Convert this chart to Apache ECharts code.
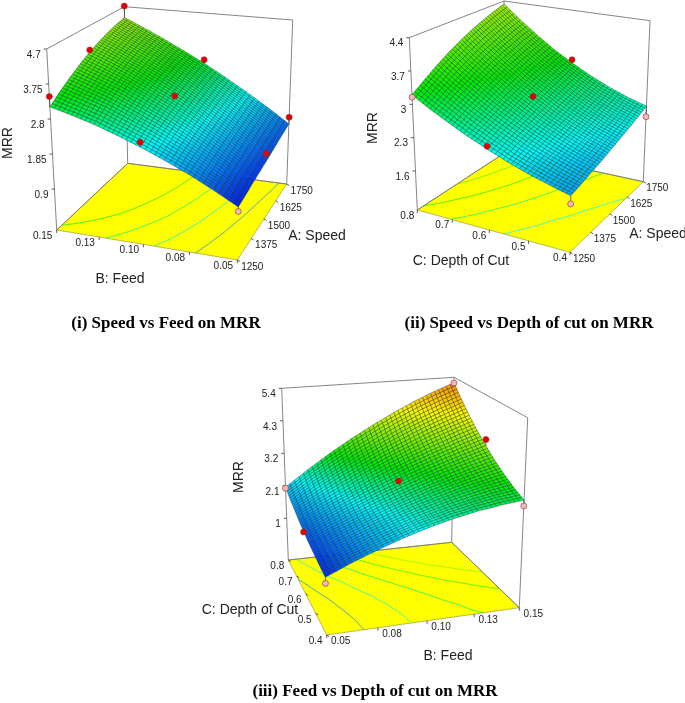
<!DOCTYPE html>
<html><head><meta charset="utf-8">
<style>html,body{margin:0;padding:0;background:#fff}#c{width:685px;height:703px}</style>
<script src="https://cdn.jsdelivr.net/npm/echarts@6/dist/echarts.min.js"></script>
</head><body><div id="c"></div>
<script>
// ---- values ----
const speedTicks=['1250','1375','1500','1625','1750'];
const feedTicks=['0.05','0.08','0.10','0.13','0.15'];
const depthTicks=['0.4','0.5','0.6','0.7','0.8'];
const mrrTicks1=['0.9','1.85','2.8','3.75','4.7'];
const mrrTicks2=['1.6','2.3','3','3.7','4.4'];
const mrrTicks3=['1','2.1','3.2','4.3','5.4'];
const tickVals1=[0.9,1.85,2.8,3.75,4.7];
const tickVals2=[1.6,2.3,3,3.7,4.4];
const tickVals3=[1,2.1,3.2,4.3,5.4];
// Surface heights on a 9x9 grid; rows: first factor low to high, columns: second factor low to high.
// Corners, edge midpoints and centre were estimated from the picture; the other nodes are a
// hand-calculated smooth fit through those estimates, not individual readings.
const surfaceSpeedFeed=[
[1.17,1.51,1.83,2.11,2.37,2.60,2.81,2.98,3.13],
[1.22,1.58,1.93,2.23,2.51,2.76,3.00,3.19,3.37],
[1.28,1.66,2.01,2.34,2.64,2.91,3.17,3.38,3.58],
[1.33,1.72,2.10,2.44,2.76,3.05,3.32,3.55,3.77],
[1.38,1.79,2.17,2.53,2.86,3.16,3.45,3.70,3.94],
[1.43,1.85,2.24,2.61,2.95,3.27,3.56,3.83,4.08],
[1.49,1.91,2.31,2.68,3.03,3.36,3.66,3.94,4.20],
[1.54,1.97,2.37,2.75,3.10,3.43,3.74,4.02,4.29],
[1.59,2.02,2.42,2.80,3.16,3.49,3.80,4.09,4.36]];
const surfaceSpeedDepth=[
[1.89,2.00,2.12,2.26,2.42,2.59,2.78,2.98,3.20],
[1.95,2.07,2.21,2.36,2.54,2.73,2.94,3.16,3.40],
[2.02,2.15,2.29,2.46,2.65,2.85,3.08,3.32,3.59],
[2.08,2.22,2.38,2.55,2.76,2.97,3.22,3.47,3.76],
[2.16,2.30,2.46,2.64,2.86,3.08,3.34,3.61,3.91],
[2.23,2.37,2.54,2.73,2.95,3.18,3.45,3.73,4.04],
[2.31,2.45,2.62,2.81,3.03,3.27,3.54,3.83,4.15],
[2.39,2.53,2.69,2.89,3.11,3.35,3.63,3.92,4.25],
[2.48,2.61,2.77,2.96,3.18,3.42,3.70,4.00,4.33]];
const surfaceDepthFeed=[
[1.29,1.62,1.91,2.17,2.39,2.57,2.71,2.81,2.88],
[1.34,1.66,1.94,2.20,2.43,2.63,2.79,2.93,3.04],
[1.41,1.72,2.01,2.27,2.52,2.73,2.93,3.09,3.24],
[1.48,1.80,2.09,2.38,2.64,2.88,3.09,3.29,3.47],
[1.57,1.91,2.23,2.53,2.81,3.08,3.32,3.54,3.75],
[1.67,2.04,2.38,2.72,3.03,3.32,3.58,3.83,4.06],
[1.79,2.20,2.59,2.95,3.29,3.60,3.90,4.16,4.40],
[1.91,2.38,2.81,3.21,3.58,3.93,4.25,4.53,4.79],
[2.05,2.58,3.07,3.52,3.93,4.31,4.65,4.95,5.21]];
// design points: [second factor 0-1, first factor 0-1, MRR]; heights
const pointsSpeedFeedAbove=[[1,1,4.72],[1,.5,4.0],[1,0,3.41],[.5,1,3.27],[.5,.5,2.93],[.5,0,2.5],[0,1,1.79],[0,.5,1.62]];
const pointsSpeedFeedBelow=[[0,0,1.05]];
const pointsSpeedDepthAbove=[[.5,1,3.25],[.5,.5,2.93],[.5,0,2.48]];
const pointsSpeedDepthBelow=[[1,0,3.15],[0,1,2.24],[0,0,1.73]];
const pointsDepthFeedAbove=[[0,.5,1.55],[.5,.5,2.86],[1,.5,3.95]];
const pointsDepthFeedBelow=[[0,1,2.02],[0,0,1.11],[1,1,5.2],[1,0,2.70]];

// ---- layout of the three boxes (screen geometry, not data) ----
const panels=[
 {m:surfaceSpeedFeed,floor:[[237.3,260],[56.7,230],[127.7,163.3],[286.7,184]],top:[[241,71],[46.7,49],[124.3,6.7],[292.7,20]],
  zFloor:-0.21,zTop:4.7,stops:[1.05,2.35,3.3,5.0,6.2],levels:[1.75,2.25,2.75,3.25],
  uTicks:feedTicks,vTicks:speedTicks,zTicks:mrrTicks1,zVals:tickVals1,above:pointsSpeedFeedAbove,below:pointsSpeedFeedBelow,
  uOff:[-14,6],vOff:[15,7],zEdge:[1,0]},
 {m:surfaceSpeedDepth,floor:[[570,252.3],[417.3,210],[506,152],[643.3,181.7]],top:[[572.5,68],[409.3,37.7],[504,1],[650,20.7]],
  zFloor:0.78,zTop:4.4,stops:[1.2,2.3,3.25,4.9,6.2],levels:[2.3,2.8,3.3,3.8],
  uTicks:depthTicks,vTicks:speedTicks,zTicks:mrrTicks2,zVals:tickVals2,above:pointsSpeedDepthAbove,below:pointsSpeedDepthBelow,
  uOff:[-10,6],vOff:[14,7],zEdge:[1,0]},
 {m:surfaceDepthFeed,floor:[[326.7,635],[519.3,607.7],[451.7,542.3],[288.3,560]],top:[[322,437.7],[527.7,417.7],[454,377.3],[281.7,388.3]],
  zFloor:-0.41,zTop:5.4,stops:[1.1,2.3,3.05,4.4,6.2],levels:[1.75,2.25,2.75,3.25,3.75],
  uTicks:feedTicks,vTicks:depthTicks,zTicks:mrrTicks3,zVals:tickVals3,above:pointsDepthFeedAbove,below:pointsDepthFeedBelow,
  uOff:[14,6.5],vOff:[-11,6.5],zEdge:[0,1]}
];
const axisTexts=[
 {t:'MRR',x:8,y:143,rot:90,s:14},{t:'B: Feed',x:120,y:279,s:14},{t:'A: Speed',x:317,y:236,s:14},
 {t:'MRR',x:373,y:128,rot:90,s:14},{t:'C: Depth of Cut',x:461,y:261,s:14},{t:'A: Speed',x:658,y:234,s:14},
 {t:'MRR',x:239,y:477,rot:90,s:14},{t:'C: Depth of Cut',x:250,y:610,s:14},{t:'B: Feed',x:448,y:656,s:14}
];
const captions=[
 {t:'(i) Speed vs Feed on MRR',x:166,y:315},
 {t:'(ii) Speed vs Depth of cut on MRR',x:529,y:315},
 {t:'(iii) Feed vs Depth of cut on MRR',x:375,y:683}
];
const MESH=40;

function homography(q){
 const [[x0,y0],[x1,y1],[x2,y2],[x3,y3]]=q;
 const dx1=x1-x2,dx2=x3-x2,sx=x0-x1+x2-x3,dy1=y1-y2,dy2=y3-y2,sy=y0-y1+y2-y3;
 const den=dx1*dy2-dx2*dy1,g=(sx*dy2-dx2*sy)/den,h=(dx1*sy-sx*dy1)/den;
 const a=x1-x0+g*x1,b=x3-x0+h*x3,d=y1-y0+g*y1,e=y3-y0+h*y3;
 return (u,v)=>{const w=g*u+h*v+1;return [(a*u+b*v+x0)/w,(d*u+e*v+y0)/w];};
}
// Bilinear interpolation between the 9x9 matrix values: the 40x40 mesh nodes that fall
// between matrix nodes are interpolated so the drawn mesh matches the reference's density.
function surfaceAt(m,u,v){
 const n=m.length-1,fu=Math.min(u*n,n-1e-9),fv=Math.min(v*n,n-1e-9),i=Math.floor(fv),j=Math.floor(fu),s=fu-j,t=fv-i;
 return (1-t)*((1-s)*m[i][j]+s*m[i][j+1])+t*((1-s)*m[i+1][j]+s*m[i+1][j+1]);
}
const ramp=[[0,0,255],[0,250,250],[0,235,0],[255,245,0],[255,0,0]];
function colorOf(z,stops){
 if(z<=stops[0])return `rgb(${ramp[0]})`;
 for(let k=1;k<stops.length;k++){ if(z<=stops[k]){const f=(z-stops[k-1])/(stops[k]-stops[k-1]);
   return 'rgb('+ramp[k].map((c,q)=>Math.round(ramp[k-1][q]+(c-ramp[k-1][q])*f)).join(',')+')';}}
 return `rgb(${ramp[4]})`;
}
const series=[];
function segSeries(segs,color,width,z,opacity){
 series.push({type:'custom',coordinateSystem:'cartesian2d',silent:true,z:z,clip:false,animation:false,progressive:0,
  encode:{x:[0,2],y:[1,3]},data:segs,
  renderItem:(p,api)=>{const a=api.coord([api.value(0),api.value(1)]),b=api.coord([api.value(2),api.value(3)]);
   const c=Array.isArray(color)?color[p.dataIndex]:color;
   return {type:'line',shape:{x1:a[0],y1:a[1],x2:b[0],y2:b[1]},style:{stroke:c,lineWidth:width,opacity:opacity==null?1:opacity}};}});
}
function polySeries(rows,fillOf,strokeStyle,z){
 series.push({type:'custom',coordinateSystem:'cartesian2d',silent:true,z:z,clip:false,animation:false,progressive:0,
  encode:{x:[0,2,4,6],y:[1,3,5,7]},data:rows,
  renderItem:(p,api)=>{const pts=[0,2,4,6].map(k=>api.coord([api.value(k),api.value(k+1)]));
   return {type:'polygon',shape:{points:pts},style:Object.assign({fill:fillOf(api.value(8))},strokeStyle)};}});
}
panels.forEach(P=>{
 const F=homography(P.floor),T=homography(P.top),span=P.zTop-P.zFloor;
 const pos=(u,v,z)=>{const a=F(u,v),b=T(u,v),t=(z-P.zFloor)/span;return [a[0]+(b[0]-a[0])*t,a[1]+(b[1]-a[1])*t];};
 // floor
 const fl=P.floor.flat();
 polySeries([[...fl,0]],()=>'#ffff00',{stroke:'#8a8a40',lineWidth:.6},2);
 // box edges
 const q=P.top,f=P.floor;
 const backIdx=2,sideA=P.zEdge[0]?1:3,sideB=P.zEdge[0]?3:1;
 segSeries([[...f[sideA],...q[sideA]],[...f[backIdx],...q[backIdx]],[...f[sideB],...q[sideB]],
            [...q[sideA],...q[backIdx]],[...q[backIdx],...q[sideB]],[...f[sideA],...f[backIdx]],[...f[backIdx],...f[sideB]]],'#777',.9,3);
 // floor ticks and z ticks
 const tk=[];
 for(let k=0;k<5;k++){
  const a=F(k/4,0),b=F(0,k/4);
  tk.push([...a,a[0],a[1]+3]);tk.push([...b,b[0]+2.5,b[1]+1.5]);
  const zv=P.zVals[k],zu=P.zEdge[0],zw=P.zEdge[1],c=pos(zu,zw,zv);
  tk.push([...c,c[0]-3,c[1]]);
 }
 segSeries(tk,'#333',.8,3);
 // contours on the floor, traced from the surface at estimated levels
 const cseg=[],ccol=[];
 const N=MESH;
 P.levels.forEach(L=>{
  for(let i=0;i<N;i++)for(let j=0;j<N;j++){
   const u=[j/N,(j+1)/N,(j+1)/N,j/N],v=[i/N,i/N,(i+1)/N,(i+1)/N],zs=u.map((_,k)=>surfaceAt(P.m,u[k],v[k]));
   const hit=[];
   for(let k=0;k<4;k++){const n=(k+1)%4;
    if((zs[k]<L)!==(zs[n]<L)){const w=(L-zs[k])/(zs[n]-zs[k]);hit.push(F(u[k]+(u[n]-u[k])*w,v[k]+(v[n]-v[k])*w));}}
   if(hit.length>=2){cseg.push([...hit[0],...hit[1]]);ccol.push(colorOf(L,P.stops));}
  }
 });
 segSeries(cseg,ccol,1,4,.7);
 const facets=[];
 for(let i=0;i<N;i++)for(let j=0;j<N;j++){
  const nodes=[[j/N,i/N],[(j+1)/N,i/N],[(j+1)/N,(i+1)/N],[j/N,(i+1)/N]];
  const zs=nodes.map(n=>surfaceAt(P.m,n[0],n[1]));
  const scr=nodes.map((n,k)=>pos(n[0],n[1],zs[k]));
  const depth=nodes.reduce((s,n)=>s+F(n[0],n[1])[1],0);
  facets.push({d:depth,row:[...scr.flat(),(zs[0]+zs[1]+zs[2]+zs[3])/4]});
 }
 facets.sort((a,b)=>a.d-b.d);
 polySeries(facets.map(x=>x.row),z=>colorOf(z,P.stops),{stroke:'rgba(5,35,35,.66)',lineWidth:.55},6);
 // stems and design points
 const stems=[];
 P.above.concat(P.below).forEach(d=>{const s=surfaceAt(P.m,d[0],d[1]);stems.push([...pos(d[0],d[1],d[2]),...pos(d[0],d[1],s)]);});
 segSeries(stems,'#444',.8,7);
 const dot=(list,color)=>series.push({type:'scatter',z:8,silent:true,animation:false,symbol:'circle',symbolSize:6,
   itemStyle:{color:color,opacity:1,borderColor:'#8a3030',borderWidth:.6},data:list.map(d=>pos(d[0],d[1],d[2]))});
 dot(P.above,'#e80000');dot(P.below,'#f0b8b8');
 // tick labels
 const labs=[];
 for(let k=0;k<5;k++){
  const a=F(k/4,0),b=F(0,k/4),c=pos(P.zEdge[0],P.zEdge[1],P.zVals[k]);
  labs.push({t:P.uTicks[k],x:a[0]+P.uOff[0],y:a[1]+P.uOff[1],a:'center'});
  labs.push({t:P.vTicks[k],x:b[0]+P.vOff[0],y:b[1]+P.vOff[1],a:'center'});
  labs.push({t:P.zTicks[k],x:c[0]-6,y:c[1]+6,a:'right'});
 }
 series.push({type:'custom',coordinateSystem:'cartesian2d',silent:true,z:9,clip:false,animation:false,encode:{x:0,y:1},
  data:labs.map(l=>[l.x,l.y]),
  renderItem:(p,api)=>{const c=api.coord([api.value(0),api.value(1)]),l=labs[p.dataIndex];
   return {type:'text',x:c[0],y:c[1],style:{text:l.t,fontFamily:'Liberation Sans',fontSize:10,fill:'#222',align:l.a,verticalAlign:'middle'}};}});
});
series.push({type:'custom',coordinateSystem:'cartesian2d',silent:true,z:10,clip:false,animation:false,encode:{x:0,y:1},
 data:axisTexts.map(l=>[l.x,l.y]),
 renderItem:(p,api)=>{const c=api.coord([api.value(0),api.value(1)]),l=axisTexts[p.dataIndex];
  return {type:'text',x:c[0],y:c[1],rotation:l.rot?Math.PI/2:0,style:{text:l.t,fontFamily:'Liberation Sans',fontSize:l.s,fill:'#222',align:'center',verticalAlign:'middle'}};}});
const chart=echarts.init(document.getElementById('c'),null,{renderer:'canvas'});
chart.setOption({
 animation:false,backgroundColor:'#fff',
 title:captions.map(c=>({text:c.t,left:c.x,top:c.y,textAlign:'center',padding:0,
   textStyle:{fontFamily:'Liberation Serif',fontWeight:'bold',fontSize:17,color:'#000'}})),
 grid:{left:0,right:0,top:0,bottom:0},
 xAxis:{type:'value',min:0,max:685,show:false},
 yAxis:{type:'value',min:0,max:703,inverse:true,show:false},
 series:series
});
</script></body></html>
